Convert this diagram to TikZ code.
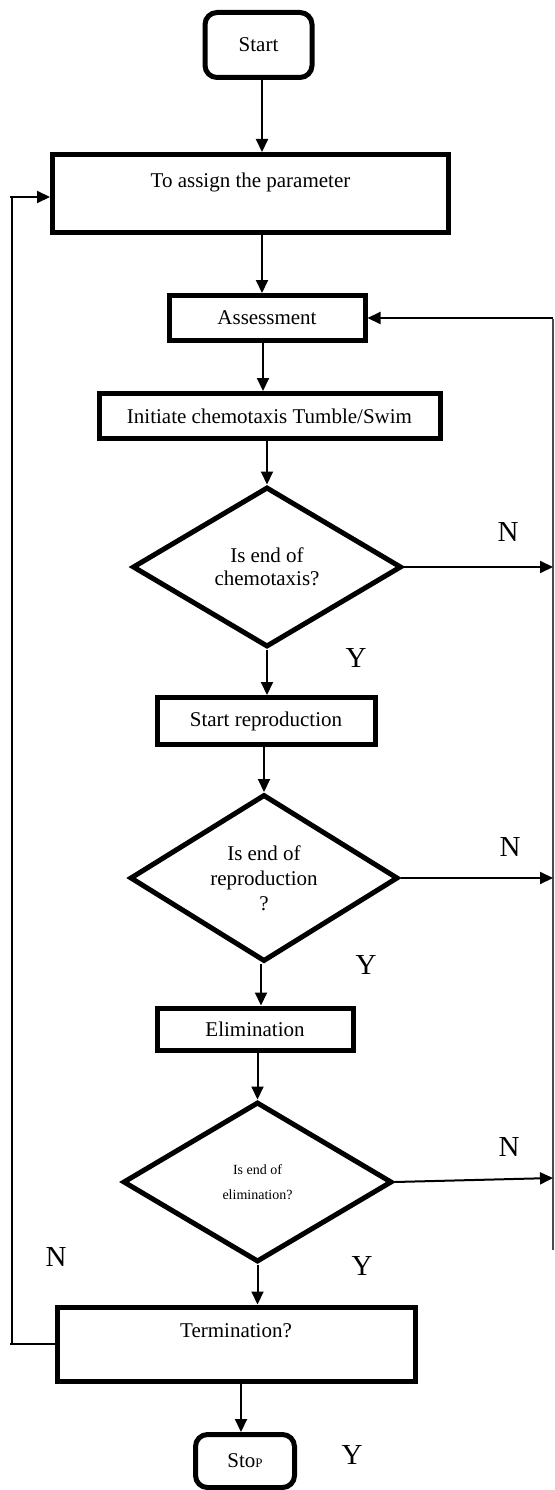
\documentclass[tikz,border=0pt]{standalone}
\usepackage{fontspec}
\setmainfont{Liberation Serif}
\usetikzlibrary{shapes.geometric,arrows.meta}
\begin{document}
\begin{tikzpicture}[x=1pt,y=-1pt,
  box/.style={draw,line width=5pt,rectangle,inner sep=0pt,align=center,font=\fontsize{21}{24}\selectfont},
  roundbox/.style={box,rounded corners=12pt},
  dec/.style={draw,line width=5pt,diamond,aspect=1.6,inner sep=0pt,align=center},
  arr/.style={line width=2pt,-{Triangle[length=13pt,width=12pt]}},
  thinline/.style={line width=1.2pt},
  lab/.style={inner sep=0pt,font=\fontsize{29}{32}\selectfont}]
\useasboundingbox (0,0) rectangle (554,1490);

% nodes
\node[roundbox,minimum width=107pt,minimum height=65pt] (start) at (258.5,45) {Start};
\node[box,minimum width=396pt,minimum height=78pt] (assign) at (250.5,193.5) {To assign the parameter\\[2pt]\mbox{}};
\node[box,minimum width=196pt,minimum height=45pt] (assess) at (267,318) {Assessment};
\node[box,minimum width=341pt,minimum height=45pt] (init) at (269.5,416) {Initiate chemotaxis Tumble/Swim};
\node[dec,minimum width=269pt,minimum height=160pt,font=\fontsize{21}{23}\selectfont] (d1) at (267,567) {Is end of\\chemotaxis?};
\node[box,minimum width=218pt,minimum height=47pt] (repro) at (266,721) {Start reproduction};
\node[dec,minimum width=268pt,minimum height=167pt,font=\fontsize{21}{25}\selectfont] (d2) at (264,878) {Is end of\\reproduction\\?};
\node[box,minimum width=196pt,minimum height=42pt] (elim) at (255,1029) {Elimination};
\node[dec,minimum width=269pt,minimum height=160pt,font=\fontsize{14}{25}\selectfont] (d3) at (257.5,1182) {Is end of\\elimination?};
\node[box,minimum width=358pt,minimum height=74pt] (termbox) at (236,1344) {Termination?\\[2pt]\mbox{}};
\node[roundbox,minimum width=99pt,minimum height=53pt] (stop) at (245,1461) {Sto{\fontsize{13}{15}\selectfont P}};

% column coordinates
\coordinate (c1) at (262,0);
\coordinate (c2) at (263,0);
\coordinate (c3) at (261,0);
\coordinate (c4) at (241,0);

% main flow
\draw[arr] (start.south -| c1) -- (assign.north -| c1);
\draw[arr] (assign.south -| c1) -- (assess.north -| c1);
\draw[arr] (assess.south -| c2) -- (init.north -| c2);
\draw[arr] (init.south -| d1.north) -- (d1.north);
\draw[arr] (d1.south) -- (d1.south |- repro.north);
\draw[arr] (repro.south -| d2.north) -- (d2.north);
\draw[arr] (d2.south -| c3) -- (elim.north -| c3);
\draw[arr] (elim.south -| d3.north) -- (d3.north);
\draw[arr] (d3.south) -- (d3.south |- termbox.north);
\draw[arr] (termbox.south -| c4) -- (stop.north -| c4);

% right loop
\coordinate (rt) at (553,319);
\coordinate (rb) at (553,1250);
\coordinate (r3) at (553,1178);
\draw[thinline,black!70] (rt) -- (rb);
\draw[arr] (rt |- assess.east) -- (assess.east);
\draw[arr] (d1.east) -- (d1.east -| rt);
\draw[arr] (d2.east) -- (d2.east -| rt);
\draw[arr] (d3.east) -- (r3);

% left loop
\coordinate (lt) at (10,197);
\coordinate (lb) at (10,1344);
\draw[thinline] (12,197) -- (12,1344);
\draw[arr] (lt) -- (lt -| assign.west);
\draw[thinline] (termbox.west) -- (lb);

% labels
\node[lab] (n1) at (508,532) {N};
\node[lab] (y1) at (356,658) {Y};
\node[lab] (n2) at (510,847) {N};
\node[lab] (y2) at (366,965) {Y};
\node[lab] (n3) at (509,1147) {N};
\node[lab] (y3) at (362,1266) {Y};
\node[lab] (n4) at (56,1257) {N};
\node[lab] (y4) at (352,1455) {Y};
\end{tikzpicture}
\end{document}
